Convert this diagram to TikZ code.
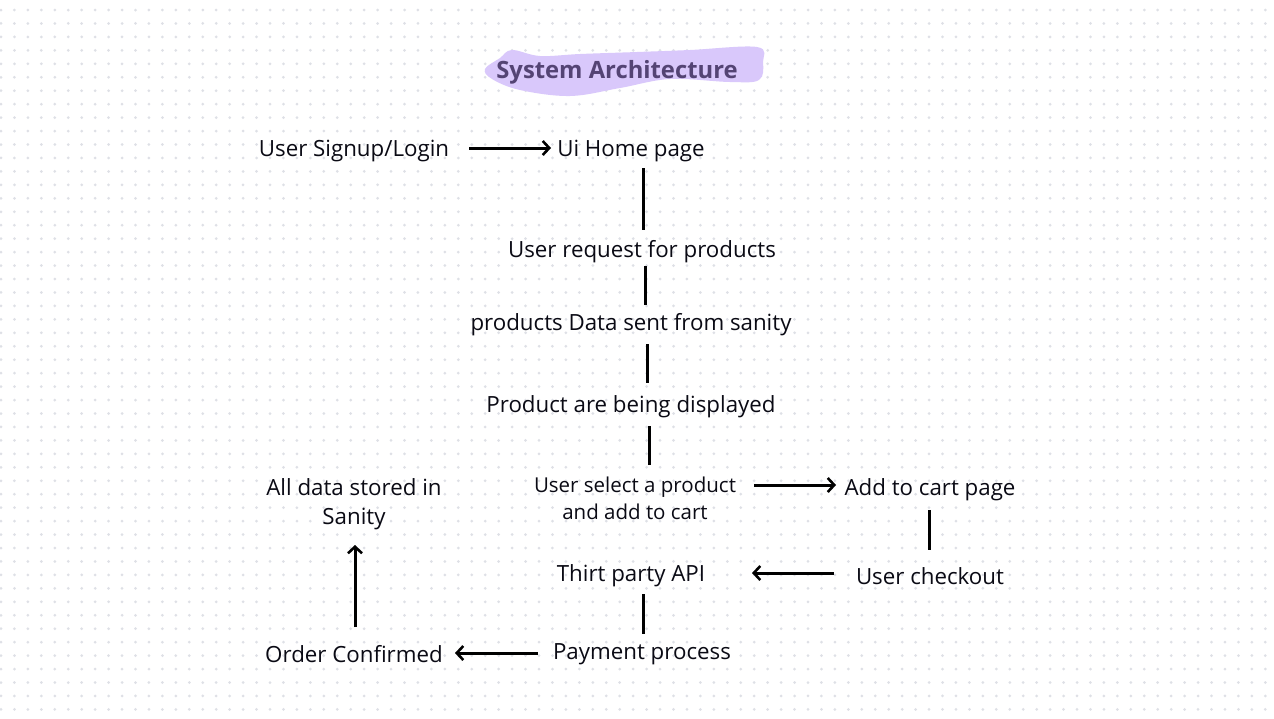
\documentclass[tikz,border=0pt]{standalone}
\usepackage{fontspec}
\setmainfont{Open Sans}
\usetikzlibrary{arrows.meta}
\usepackage{xcolor}
\definecolor{dotgrey}{RGB}{222,224,230}
\definecolor{brushlilac}{RGB}{217,200,251}
\definecolor{titleplum}{RGB}{84,68,116}
\definecolor{inkblack}{RGB}{10,10,20}

\tikzset{
    lbl/.style={text=inkblack, font=\fontsize{22.3}{26}\selectfont, inner sep=0pt},
    small/.style={lbl, align=center, font=\fontsize{20.5}{27}\selectfont},
    link/.style={line width=3pt, draw=black},
    flow/.style={link, -{Straight Barb[length=6.5pt, width=14pt, line width=2.6pt]}}
}

\begin{document}
\begin{tikzpicture}[x=1pt, y=-1pt]
    \useasboundingbox (0,0) rectangle (1274,718);
    \fill[white] (0,0) rectangle (1274,718);
    % dotted paper
    \foreach \i in {0,...,94} {
        \foreach \j in {0,...,52} {
            \fill[dotgrey] (1+13.45*\i, 10+13.45*\j) circle (1.5);
        }
    }
    % title brush stroke
    \fill[brushlilac] plot[smooth cycle, tension=0.6] coordinates {
        (485,69) (500,58) (512,50) (540,56) (580,54) (637,52) (690,50) (757,47) (763,62)
        (759,80) (730,82) (670,79) (620,88) (570,96) (520,90) (492,79)};
    \node[font=\fontsize{23.8}{28}\bfseries, text=titleplum] (title) at (617,72) {System Architecture};

    \node[lbl] (login) at (354,151) {User Signup/Login};
    \node[lbl] (home) at (631,151) {Ui Home page};
    \node[lbl] (request) at (642,252) {User request for products};
    \node[lbl] (sanity) at (631,325) {products Data sent from sanity};
    \node[lbl] (display) at (631,407) {Product are being displayed};
    \node[small] (select) at (635,498) {User select a product\\and add to cart};
    \node[lbl] (cart) at (930,490) {Add to cart page};
    \node[lbl] (checkout) at (930,576) {User checkout};
    \node[lbl] (api) at (631,576) {Thirt party API};
    \node[lbl] (payment) at (642,654) {Payment process};
    \node[lbl] (confirmed) at (354,654) {Order Confirmed};
    \node[lbl, align=center, font=\fontsize{22.3}{29}\selectfont] (stored) at (354,504) {All data stored in\\Sanity};

    % free ends of the connectors
    \coordinate (l1) at (469,148); \coordinate (l2) at (551,148);
    \coordinate (h1) at (643,168); \coordinate (h2) at (643,230);
    \coordinate (r1) at (645,266); \coordinate (r2) at (645,305);
    \coordinate (s1) at (647,344); \coordinate (s2) at (647,383);
    \coordinate (d1) at (649,426); \coordinate (d2) at (649,465);
    \coordinate (a1) at (754,485); \coordinate (a2) at (836,485);
    \coordinate (c1) at (929,510); \coordinate (c2) at (929,550);
    \coordinate (u1) at (834,573); \coordinate (u2) at (752,573);
    \coordinate (p1) at (643,594); \coordinate (p2) at (643,634);
    \coordinate (o1) at (538,653); \coordinate (o2) at (455,653);
    \coordinate (v1) at (355,627); \coordinate (v2) at (355,545);

    \draw[flow] (l1) -- (l2);
    \draw[link] (h1) -- (h2);
    \draw[link] (r1) -- (r2);
    \draw[link] (s1) -- (s2);
    \draw[link] (d1) -- (d2);
    \draw[flow] (a1) -- (a2);
    \draw[link] (c1) -- (c2);
    \draw[flow] (u1) -- (u2);
    \draw[link] (p1) -- (p2);
    \draw[flow] (o1) -- (o2);
    \draw[flow] (v1) -- (v2);
\end{tikzpicture}
\end{document}
